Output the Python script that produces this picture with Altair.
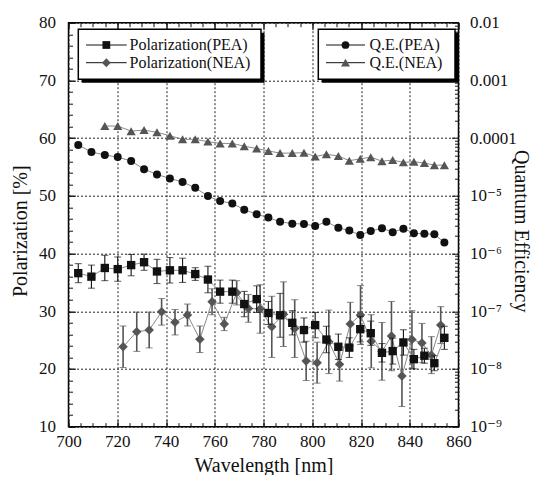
import json
import altair as alt
import pandas as pd

# ---------------- data ----------------
WL_PEA = [704.0, 709.4, 714.9, 720.2, 725.7, 731.0, 736.3, 741.6, 746.8, 752.0,
          757.2, 762.2, 767.2, 772.1, 777.2, 782.0, 786.8, 791.8, 796.6, 801.2,
          805.8, 810.7, 815.2, 819.7, 824.0, 828.6, 833.0, 837.4, 841.7, 846.0,
          850.1, 854.2]
POL_PEA = [36.6, 36.0, 37.5, 37.3, 38.0, 38.5, 36.9, 37.1, 37.1, 36.45,
           35.5, 33.4, 33.4, 31.25, 32.1, 29.7, 29.3, 28.0, 26.75, 27.6,
           25.1, 23.85, 23.7, 26.9, 26.2, 22.8, 23.1, 24.6, 21.7, 22.3,
           21.0, 25.4]
POL_PEA_ERR = [1.65, 2.0, 2.2, 2.1, 1.85, 1.4, 2.1, 2.2, 2.1, 1.1,
               2.3, 2.0, 2.0, 2.2, 2.3, 2.0, 3.8, 2.1, 2.1, 2.2,
               2.3, 2.2, 1.7, 2.2, 2.1, 1.6, 2.25, 2.2, 1.7, 1.3,
               1.3, 2.0]

WL_NEA = [722.4, 728.0, 733.1, 738.2, 743.7, 748.8, 753.9, 758.9, 763.9, 769.0,
          773.8, 778.6, 783.4, 788.2, 792.8, 797.5, 802.0, 806.8, 811.2, 815.6,
          819.8, 824.2, 828.6, 832.5, 836.8, 840.9, 845.0, 848.9, 852.7]
POL_NEA = [23.85, 26.45, 26.75, 29.9, 28.1, 29.35, 25.15, 31.65, 27.8, 33.2,
           30.5, 30.4, 27.3, 29.5, 27.0, 21.4, 21.1, 24.7, 20.8, 27.8,
           29.35, 24.8, 23.05, 25.7, 18.8, 25.1, 24.5, 22.4, 27.6]
POL_NEA_ERR = [3.6, 3.4, 3.1, 2.3, 2.2, 1.9, 2.3, 2.25, 1.15, 2.1,
               2.4, 4.2, 5.3, 5.6, 5.0, 3.4, 3.55, 5.5, 2.9, 3.75,
               5.1, 4.6, 5.0, 6.0, 5.3, 5.0, 3.4, 3.2, 3.2]

QE_PEA = [7.6e-5, 5.75e-5, 5.1e-5, 4.7e-5, 4.0e-5, 2.9e-5, 2.35e-5, 2.0e-5, 1.74e-5, 1.38e-5,
          9.9e-6, 8.1e-6, 7.4e-6, 5.75e-6, 4.8e-6, 4.2e-6, 3.55e-6, 3.3e-6, 3.25e-6, 3.0e-6,
          3.55e-6, 2.8e-6, 2.5e-6, 2.1e-6, 2.45e-6, 2.75e-6, 2.35e-6, 2.7e-6, 2.25e-6, 2.2e-6,
          2.15e-6, 1.55e-6]

WL_QE_NEA = [714.9, 720.2, 725.7, 731.0, 736.3, 741.6, 746.8, 752.0, 757.2, 762.2,
             767.2, 772.1, 777.2, 782.0, 786.8, 791.8, 796.6, 801.2, 805.8, 810.7,
             815.2, 819.7, 824.0, 828.6, 833.0, 837.4, 841.7, 846.0, 850.1, 854.2]
QE_NEA = [1.62e-4, 1.62e-4, 1.32e-4, 1.38e-4, 1.26e-4, 1.1e-4, 9.55e-5, 9.55e-5, 8.7e-5, 8.1e-5,
          8.1e-5, 7.25e-5, 6.6e-5, 6.0e-5, 5.5e-5, 5.5e-5, 5.6e-5, 4.8e-5, 5.25e-5, 4.9e-5,
          4.07e-5, 4.37e-5, 4.68e-5, 3.98e-5, 4.17e-5, 3.8e-5, 3.9e-5, 3.7e-5, 3.4e-5, 3.4e-5]

X_TICKS = [700, 720, 740, 760, 780, 800, 820, 840, 860]
X_MINOR = [700 + 5 * i for i in range(33)]
Y_TICKS = [10, 20, 30, 40, 50, 60, 70, 80]
Y_MINOR = [10 + 2 * i for i in range(36)]
QE_TICKS = [1e-9, 1e-8, 1e-7, 1e-6, 1e-5, 1e-4, 1e-3, 1e-2]
QE_TICK_LABELS = ["10\u207b\u2079", "10\u207b\u2078", "10\u207b\u2077", "10\u207b\u2076",
                  "10\u207b\u2075", "0.0001", "0.001", "0.01"]
QE_MINOR = [m * d for d in QE_TICKS[:-1] for m in range(2, 10)]

LEGEND_POL = ["Polarization(PEA)", "Polarization(NEA)"]
LEGEND_QE = ["Q.E.(PEA)", "Q.E.(NEA)"]

# ---------------- styling ----------------
FONT = "Liberation Serif, 'Times New Roman', Times, 'DejaVu Serif', serif"
BLACK = "#111111"
GRAY = "#555555"
LINEGRAY = "#8a8a8a"

W, H = 390, 404

df_pea = pd.DataFrame({"wl": WL_PEA, "val": POL_PEA, "err": POL_PEA_ERR, "qe": QE_PEA})
df_nea = pd.DataFrame({"wl": WL_NEA, "val": POL_NEA, "err": POL_NEA_ERR})
df_qen = pd.DataFrame({"wl": WL_QE_NEA, "qe": QE_NEA})
one = pd.DataFrame({"a": [0]})

xs = alt.Scale(domain=[700, 860], nice=False, zero=False)
ys = alt.Scale(domain=[10, 80], nice=False, zero=False)
qs = alt.Scale(type="log", domain=[1e-9, 1e-2], nice=False)


def X(axis=None, field="wl:Q"):
    return alt.X(field, scale=xs, axis=axis, title=None)


def Yp(field="val:Q", axis=None):
    return alt.Y(field, scale=ys, axis=axis, title=None)


def Yq(axis=None):
    return alt.Y("qe:Q", scale=qs, axis=axis, title=None)


def tick_axis(orient, values, size, **kw):
    return alt.Axis(orient=orient, values=values, offset=-size, tickSize=size,
                    ticks=True, labels=False, domain=False, grid=False,
                    tickColor=BLACK, tickWidth=1, title=None, **kw)


# ---------- axis layers ----------
ax_main = alt.Chart(df_pea).mark_point(opacity=0).encode(
    x=alt.X("wl:Q", scale=xs, title="Wavelength [nm]",
            axis=alt.Axis(orient="bottom", values=X_TICKS, grid=True, gridDash=[2, 2],
                          gridColor="#222", gridWidth=1, ticks=False, tickSize=0, domain=False,
                          labelFont=FONT, labelFontSize=17, labelColor=BLACK, labelPadding=7,
                          labelFlush=False, labelOverlap=False,
                          format="d", titleFont=FONT, titleFontSize=20, titleFontWeight="normal",
                          titleColor=BLACK, titleBaseline="middle", titleX=W / 2, titleY=39)),
    y=alt.Y("val:Q", scale=ys, title="Polarization [%]",
            axis=alt.Axis(orient="left", values=Y_TICKS, grid=True, gridDash=[2, 2],
                          gridColor="#222", gridWidth=1, ticks=False, tickSize=0, domain=False,
                          labelFont=FONT, labelFontSize=17, labelColor=BLACK, labelPadding=13,
                          labelFlush=False, labelOverlap=False,
                          titleFont=FONT, titleFontSize=20, titleFontWeight="normal",
                          titleColor=BLACK, titleAngle=270, titleBaseline="middle",
                          titleX=-48, titleY=H / 2 + 6)),
)

ax_maj = alt.Chart(df_pea).mark_point(opacity=0).encode(
    x=X(tick_axis("bottom", X_TICKS, 7)),
    y=Yp(axis=tick_axis("left", Y_TICKS, 7)),
)
ax_min = alt.Chart(df_pea).mark_point(opacity=0).encode(
    x=X(tick_axis("bottom", X_MINOR, 4)),
    y=Yp(axis=tick_axis("left", Y_MINOR, 4)),
)
ax_right = alt.Chart(df_pea).mark_point(opacity=0).encode(
    x=X(tick_axis("top", X_TICKS, 7)),
    y=alt.Y("qe:Q", scale=qs, title="Quantum Efficiency",
            axis=alt.Axis(orient="right", values=QE_TICKS, grid=False, ticks=False, tickSize=0,
                          domain=False, labelFont=FONT, labelFontSize=17, labelColor=BLACK,
                          labelPadding=11, labelFlush=False, labelOverlap=False,
                          labelExpr=json.dumps(QE_TICK_LABELS) + "[round(log(datum.value)/LN10)+9]",
                          titleFont=FONT, titleFontSize=20, titleFontWeight="normal",
                          titleColor=BLACK, titleAngle=90, titleBaseline="middle",
                          titleX=62, titleY=H / 2 + 6)),
)
ax_right_maj = alt.Chart(df_pea).mark_point(opacity=0).encode(
    x=X(tick_axis("top", X_MINOR, 4)),
    y=Yq(tick_axis("right", QE_TICKS, 7)),
)
ax_right_min = alt.Chart(df_pea).mark_point(opacity=0).encode(
    x=X(),
    y=Yq(tick_axis("right", QE_MINOR, 4)),
)

# ---------- data layers ----------
def series_pol(df, color, barw, shape, size):
    base = alt.Chart(df).transform_calculate(lo="datum.val - datum.err", hi="datum.val + datum.err")
    bars = base.mark_rule(color=color, strokeWidth=barw).encode(x=X(), y=Yp("lo:Q"), y2="hi:Q")
    cap_lo = base.mark_tick(orient="horizontal", color=color, size=7, thickness=1).encode(x=X(), y=Yp("lo:Q"))
    cap_hi = base.mark_tick(orient="horizontal", color=color, size=7, thickness=1).encode(x=X(), y=Yp("hi:Q"))
    line = base.mark_line(color=LINEGRAY, strokeWidth=1).encode(x=X(), y=Yp())
    pts = base.mark_point(shape=shape, filled=True, color=color, size=size, opacity=1).encode(x=X(), y=Yp())
    return [bars, cap_lo, cap_hi, line, pts]


def series_qe(df, color, shape, size):
    line = alt.Chart(df).mark_line(color=LINEGRAY, strokeWidth=1).encode(x=X(), y=Yq())
    pts = alt.Chart(df).mark_point(shape=shape, filled=True, color=color, size=size, opacity=1).encode(x=X(), y=Yq())
    return [line, pts]


layers = [ax_main, ax_maj, ax_min, ax_right, ax_right_maj, ax_right_min]
layers += series_qe(df_qen, GRAY, "triangle-up", 85)
layers += series_qe(df_pea, BLACK, "circle", 64)
layers += series_pol(df_nea, GRAY, 1.6, "diamond", 90)
layers += series_pol(df_pea, BLACK, 1.1, "square", 70)

# ---------- legends (decoration, pixel positions) ----------
def legend_box(x0, x1, y0, y1, rows, labels, line_x0, line_x1, text_x):
    out = []
    out.append(alt.Chart(one).mark_rect(fill="black").encode(
        x=alt.value(x0 + 3.5), x2=alt.value(x1 + 3.5), y=alt.value(y0 + 3.5), y2=alt.value(y1 + 3.5)))
    out.append(alt.Chart(one).mark_rect(fill="white", stroke="black", strokeWidth=1.5).encode(
        x=alt.value(x0), x2=alt.value(x1), y=alt.value(y0), y2=alt.value(y1)))
    for (yy, shape, color, size), lab in zip(rows, labels):
        out.append(alt.Chart(one).mark_rule(color=BLACK, strokeWidth=1).encode(
            x=alt.value(line_x0), x2=alt.value(line_x1), y=alt.value(yy)))
        out.append(alt.Chart(one).mark_point(shape=shape, filled=True, color=color, size=size, opacity=1).encode(
            x=alt.value((line_x0 + line_x1) / 2), y=alt.value(yy)))
        out.append(alt.Chart(one).mark_text(align="left", baseline="middle", font=FONT, fontSize=16,
                                            color=BLACK).encode(
            x=alt.value(text_x), y=alt.value(yy), text=alt.value(lab)))
    return out


layers += legend_box(9.8, 192.5, 6.6, 56.6,
                     [(22.3, "square", BLACK, 60), (40.0, "diamond", GRAY, 80)],
                     LEGEND_POL, 17.5, 58.2, 61)
layers += legend_box(249.8, 386.5, 6.6, 56.6,
                     [(22.3, "circle", BLACK, 60), (40.0, "triangle-up", GRAY, 80)],
                     LEGEND_QE, 257.5, 296.5, 301)

chart = alt.layer(*layers).resolve_scale(y="independent").resolve_axis(
    x="independent", y="independent"
).properties(
    width=W, height=H,
    autosize=alt.AutoSizeParams(type="none"),
    padding={"left": 60.5, "top": 14.7, "right": 77.5, "bottom": 48.3},
    background="white",
).configure_view(stroke="black", strokeWidth=1.5)

chart.save("out.html", embed_options={"renderer": "svg", "actions": False})
